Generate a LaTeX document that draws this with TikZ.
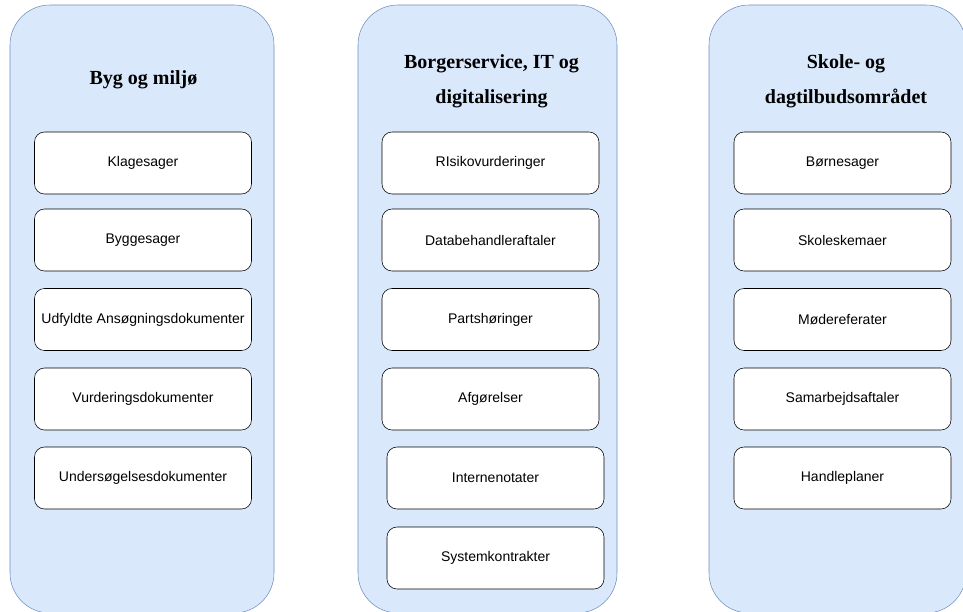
\documentclass[tikz,border=0pt]{standalone}
\usepackage{fontspec}
\setmainfont{Liberation Serif}
\setsansfont{Liberation Sans}
\definecolor{areafill}{HTML}{DAE8FC}
\definecolor{areadraw}{HTML}{6C8EBF}
\begin{document}
\begin{tikzpicture}[
    x=0.75pt, y=-0.75pt,
    area/.style={rectangle, draw=areadraw, fill=areafill, rounded corners=30pt, minimum height=456pt, inner sep=0pt},
    doc/.style={rectangle, draw, fill=white, rounded corners=7.5pt, minimum width=162.75pt, minimum height=46.5pt, align=center, inner sep=0pt, font=\sffamily\fontsize{10.5}{12}\selectfont},
    heading/.style={align=center, font=\fontsize{15}{26.25}\selectfont\bfseries}
]
\clip (0,0) rectangle (963,611);

% Areas
\node[area, minimum width=198pt] (bym) at (142,309) {};
\node[area, minimum width=194.25pt] (bit) at (487.5,309) {};
\node[area, minimum width=192.75pt] (sko) at (837.5,309) {};

% Headings
\node[heading] (bymtitle) at (143.5,80) {Byg og miljø};
\node[heading] (bittitle) at (491.5,81) {Borgerservice, IT og\\digitalisering};
\node[heading] (skotitle) at (846,81) {Skole- og\\dagtilbudsområdet};

% Byg og miljø
\node[doc] (klage) at (143,163) {Klagesager};
\node[doc] (bygge) at (143,240) {Byggesager};
\node[doc] (udfyldt) at (143,319.5) {Udfyldte Ansøgningsdokumenter};
\node[doc] (vurd) at (143,399) {Vurderingsdokumenter};
\node[doc] (unders) at (143,478) {Undersøgelsesdokumenter};

% Borgerservice, IT og digitalisering
\node[doc] (risiko) at (490.5,163) {RIsikovurderinger};
\node[doc] (databeh) at (490.5,240) {Databehandleraftaler};
\node[doc] (parts) at (490.5,319.5) {Partshøringer};
\node[doc] (afg) at (490.5,399) {Afgørelser};
\node[doc] (intern) at (495.5,478) {Internenotater};
\node[doc] (system) at (495.5,558) {Systemkontrakter};

% Skole- og dagtilbudsområdet
\node[doc] (boern) at (842.5,163) {Børnesager};
\node[doc] (skema) at (842.5,240) {Skoleskemaer};
\node[doc] (moede) at (842.5,319.5) {Mødereferater};
\node[doc] (samarb) at (842.5,399) {Samarbejdsaftaler};
\node[doc] (handle) at (842.5,478) {Handleplaner};

\end{tikzpicture}
\end{document}
